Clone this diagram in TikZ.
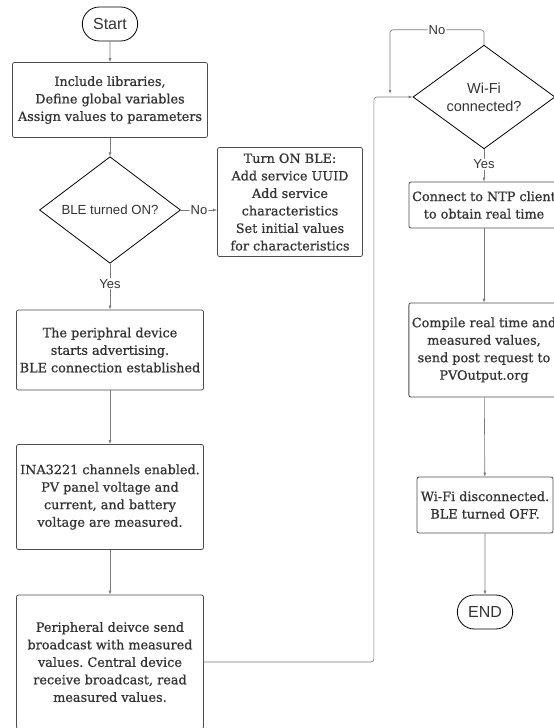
\documentclass[tikz,border=0pt]{standalone}
\usepackage{fontspec}
\setmainfont{DejaVu Serif}[AutoFakeBold=0.8]
\setsansfont{Liberation Sans}
\usetikzlibrary{arrows.meta,shapes.geometric,shapes.misc}
\definecolor{txtgray}{HTML}{333333}
\definecolor{boxgray}{HTML}{4D4D4D}
\definecolor{linegray}{HTML}{7A7A7A}
\tikzset{
  >={Latex[width=3pt,length=4pt]},
  % Styles of the nodes
       base/.style = {draw=boxgray, line width=0.8pt, text=txtgray,
                      align=center},
    process/.style = {base, rectangle, rounded corners=2pt, inner sep=3pt,
                      font=\bfseries\fontsize{12.8}{17.5}\selectfont},
   decision/.style = {base, diamond, draw=black, inner sep=0pt,
                      font=\sffamily\fontsize{13.2}{16.5}\selectfont},
  startstop/.style = {base, rounded rectangle, draw=black,
                      minimum width=62pt, minimum height=34pt,
                      font=\sffamily\fontsize{16}{19}\selectfont},
       conn/.style = {->, draw=linegray, line width=0.6pt, rounded corners=3pt},
      label/.style = {fill=white, inner sep=1pt, text=txtgray,
                      font=\sffamily\fontsize{13}{15}\selectfont},
}

\begin{document}
\frenchspacing
\begin{tikzpicture}[node distance=100pt]
    \useasboundingbox (0,0) rectangle (554pt,-728pt);
    % Nodes of the left column
    \node (start)   [startstop] at (110pt,-24pt)           {Start};
    \node (init)    [process, below of=start, yshift=24pt,
                     minimum width=195pt, minimum height=75pt]
                    {Include libraries,\\ Define global variables\\ Assign values to parameters};
    \node (bleq)    [decision, below of=init, yshift=-10pt,
                     minimum width=141pt, minimum height=105pt]
                    {BLE turned ON?};
    \node (bleon)   [process, right of=bleq, xshift=80pt, yshift=8pt,
                     minimum width=145pt, minimum height=109pt]
                    {Turn ON BLE:\\ Add service UUID\\ Add service\\ characteristics\\
                     Set initial values\\ for characteristics};
    \node (adv)     [process, below of=bleq, yshift=-40pt,
                     minimum width=187pt, minimum height=80pt]
                    {The periphral device\\ starts advertising.\\ BLE connection established};
    \node (ina)     [process, below of=adv, yshift=-47pt,
                     minimum width=187pt, minimum height=105pt]
                    {INA3221 channels enabled.\\ PV panel voltage and\\ current, and battery\\
                     voltage are measured.};
    \node (bcast)   [process, below of=ina, yshift=-65pt,
                     minimum width=187pt, minimum height=134pt]
                    {Peripheral deivce send\\ broadcast with measured\\ values. Central device\\
                     receive broadcast, read\\ measured values.};
    % Nodes of the right column
    \node (wifi)    [decision, right of=init, xshift=274pt, yshift=3pt,
                     minimum width=142pt, minimum height=100pt,
                     font=\sffamily\fontsize{14.5}{18}\selectfont]
                    {Wi-Fi\\ connected?};
    \node (ntp)     [process, below of=wifi, yshift=-8pt,
                     minimum width=150pt, minimum height=46pt]
                    {Connect to NTP client\\ to obtain real time};
    \node (post)    [process, below of=ntp, yshift=-45pt,
                     minimum width=150pt, minimum height=94pt]
                    {Compile real time and\\ measured values,\\ send post request to\\ PVOutput.org};
    \node (off)     [process, below of=post, xshift=1pt, yshift=-55pt,
                     minimum width=136pt, minimum height=56pt]
                    {Wi-Fi disconnected.\\ BLE turned OFF.};
    \node (stop)    [startstop, below of=off, yshift=-7pt] {END};

    % Connectors
    \draw[conn] (start) -- (init);
    \draw[conn] (init) -- (bleq);
    \draw[conn] (bleq.east) -- node[label] {No} (bleq.east -| bleon.west);
    \draw[conn] (bleq) -- node[label, yshift=3pt] {Yes} (adv);
    \draw[conn] (adv) -- (ina);
    \draw[conn] (ina) -- (bcast);
    \draw[conn] (bcast.east) -- ++(170pt,0) |- (wifi.west);
    \draw[conn] (wifi.north) -- ++(0,15pt) -- node[label] {No} ++(-94pt,0)
                -- ++(0,-64pt);
    \draw[conn] (wifi) -- node[label, yshift=1pt] {Yes} (ntp);
    \draw[conn] (ntp) -- (post);
    \draw[conn] (post) -- (off);
    \draw[conn] (off) -- (stop);
\end{tikzpicture}
\end{document}
